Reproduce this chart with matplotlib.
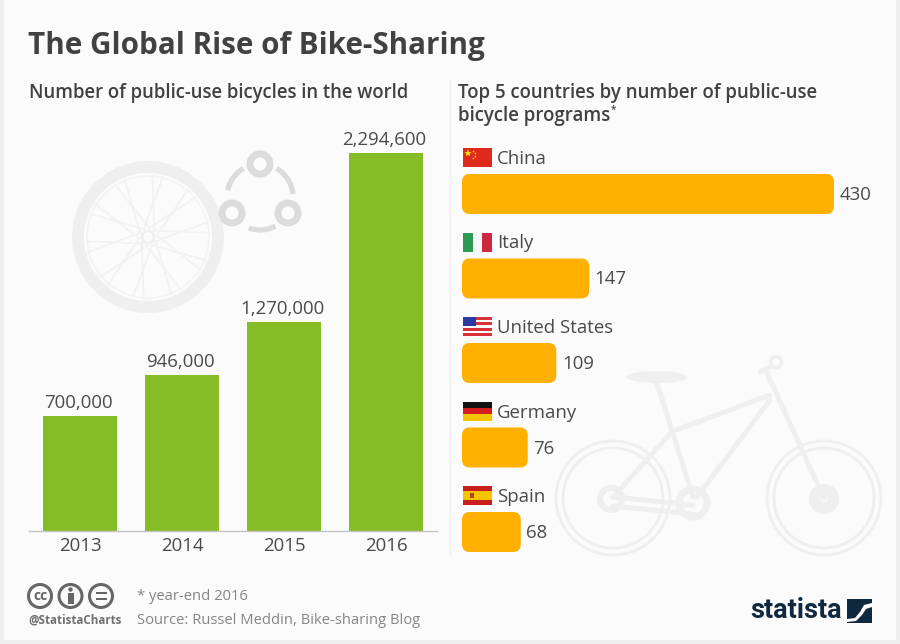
import matplotlib
matplotlib.use('Agg')
import matplotlib.pyplot as plt
from matplotlib.patches import Arc, Circle, Ellipse, FancyBboxPatch, Polygon, Rectangle

years = ['2013', '2014', '2015', '2016']
bicycles = [700000, 946000, 1270000, 2294600]
countries = ['China', 'Italy', 'United States', 'Germany', 'Spain']
programs = [430, 147, 109, 76, 68]

GREEN = '#86bc25'
ORANGE = '#ffb000'
DARK = '#414141'
TEXT = '#4a4a4a'
GREY = '#858585'
WATERMARK = '#efefef'
SHARE = '#dcdcdc'
NAVY = '#10293f'

W, H = 900, 644
plt.rcParams['font.family'] = ['Open Sans', 'DejaVu Sans']


def px_axes(fig, x0, y0, x1, y1, zorder):
	ax = fig.add_axes([x0 / W, 1 - y1 / H, (x1 - x0) / W, (y1 - y0) / H], zorder=zorder)
	ax.patch.set_alpha(0)
	return ax


def line(ax, x1, y1, x2, y2, lw=3.6, color=WATERMARK):
	ax.plot([x1, x2], [y1, y2], color=color, lw=lw, solid_capstyle='round')


def draw_wheel(ax, cx, cy):
	ax.add_patch(Circle((cx, cy), 70, fill=False, ec=WATERMARK, lw=8.5))
	ax.add_patch(Circle((cx, cy), 61, fill=False, ec='#f4f4f4', lw=1.2))
	for i in range(20):
		angle = i * 18 + (4 if i % 2 else -4)
		off = 6 if i % 2 else -6
		a = matplotlib.transforms.Affine2D().rotate_deg(angle).translate(cx, cy)
		p1 = a.transform((6, off))
		p2 = a.transform((62, 0))
		line(ax, p1[0], p1[1], p2[0], p2[1], lw=1.3, color='#f2f2f2')
	ax.add_patch(Circle((cx, cy), 6, fill=False, ec=WATERMARK, lw=2))


def draw_share(ax):
	for cx, cy in [(260, 164), (232, 213), (288, 213)]:
		ax.add_patch(Circle((cx, cy), 10, fill=False, ec=SHARE, lw=5))
	for t1, t2 in [(192, 240), (300, 355), (62, 110)]:
		ax.add_patch(Arc((260, 197), 66, 66, theta1=t1, theta2=t2, ec=SHARE, lw=3.8))


def draw_bike(ax):
	for cx in (613, 824):
		ax.add_patch(Circle((cx, 498), 57, fill=False, ec=WATERMARK, lw=2))
		ax.add_patch(Circle((cx, 498), 50, fill=False, ec=WATERMARK, lw=2))
	ax.add_patch(Ellipse((657, 377), 61, 12, fc=WATERMARK, ec='none'))
	line(ax, 657, 383, 693, 497)
	line(ax, 671, 432, 770, 395)
	line(ax, 770, 400, 697, 497)
	line(ax, 670, 434, 613, 497)
	line(ax, 613, 497, 693, 505)
	line(ax, 613, 506, 693, 514)
	line(ax, 767, 373, 824, 498)
	line(ax, 760, 372, 772, 366)
	ax.add_patch(Circle((776, 362), 5.5, fill=False, ec=WATERMARK, lw=2.6))
	ax.add_patch(Circle((611, 499), 11, fill=False, ec=WATERMARK, lw=4.5))
	ax.add_patch(Circle((693, 503), 14, fill=False, ec=WATERMARK, lw=5))
	ax.add_patch(Circle((824, 499), 15, fc=WATERMARK, ec='none'))
	ax.add_patch(Circle((824, 499), 4, fc='#f6f6f6', ec='none'))


def stripes(ax, x, y, w, h, colors, vertical=False):
	n = len(colors)
	for i, c in enumerate(colors):
		if vertical:
			ax.add_patch(Rectangle((x + i * w / n, y), w / n, h, fc=c, ec='none'))
		else:
			ax.add_patch(Rectangle((x, y + i * h / n), w, h / n, fc=c, ec='none'))


def draw_flag(ax, name, x, y, w=29, h=19):
	if name == 'China':
		stripes(ax, x, y, w, h, ['#dd2a1c'])
		ax.plot([x + 5], [y + 5], marker='*', ms=6, color='#f5d800', mew=0)
		for dx, dy in [(10, 2.5), (12, 5), (12, 8), (10, 10)]:
			ax.plot([x + dx], [y + dy], marker='*', ms=2, color='#f5d800', mew=0)
	elif name == 'Italy':
		stripes(ax, x, y, w, h, ['#2f9a52', '#fafafa', '#cc2b3f'], vertical=True)
	elif name == 'United States':
		stripes(ax, x, y, w, h, ['#d8313a', '#fafafa'] * 3 + ['#d8313a'])
		ax.add_patch(Rectangle((x, y), 13, 9, fc='#2a3aa5', ec='none'))
	elif name == 'Germany':
		stripes(ax, x, y, w, h, ['#111111', '#d51f1f', '#f7c400'])
	elif name == 'Spain':
		stripes(ax, x, y, w, h, ['#c81e1e', '#f5c400', '#f5c400', '#c81e1e'])
		ax.add_patch(Rectangle((x + 7, y + 7), 4, 5, fc='#b5471c', ec='none'))


def draw_cc(ax):
	for cx in (40, 70.5, 101):
		ax.add_patch(Circle((cx, 596), 11.5, fc='none', ec='#666666', lw=2.2))
	ax.text(40, 595.5, 'cc', color='#666666', fontsize=10, fontweight='bold', ha='center', va='center')
	ax.add_patch(Circle((70.5, 589.5), 2.2, fc='#666666', ec='none'))
	ax.add_patch(Rectangle((67.5, 593), 6, 11, fc='#666666', ec='none'))
	ax.add_patch(Rectangle((95.5, 592), 11, 2.2, fc='#666666', ec='none'))
	ax.add_patch(Rectangle((95.5, 597.5), 11, 2.2, fc='#666666', ec='none'))


def draw_logo(ax):
	ax.text(750, 611, 'statista', color=NAVY, fontsize=19.5, fontweight='bold', family='Roboto',
		ha='left', va='center')
	ax.add_patch(Rectangle((847, 599), 25, 24, fc=NAVY, ec='none'))
	ax.add_patch(Polygon([(847, 619), (855, 618), (860, 612), (864, 605), (872, 603), (872, 607), (866, 609),
		(862, 615), (856, 621), (847, 622)], fc='white', ec='none'))


fig = plt.figure(figsize=(W / 100, H / 100), dpi=100, facecolor='#efefef')

# page and decoration in pixel coordinates
bg = px_axes(fig, 0, 0, W, H, 0)
bg.set_xlim(0, W)
bg.set_ylim(H, 0)
bg.axis('off')
bg.add_patch(Rectangle((4, 0), 892, 640, fc='#fbfbfb', ec='none'))
bg.plot([450, 450], [80, 556], color='#f1f1f1', lw=1)
draw_wheel(bg, 148, 237)
draw_share(bg)
draw_bike(bg)
draw_cc(bg)
draw_logo(bg)

bg.text(28, 46, 'The Global Rise of Bike-Sharing', color=DARK, fontsize=21.35, fontweight='bold', va='center')
bg.text(29, 93, 'Number of public-use bicycles in the world', color=DARK, fontsize=13.35, fontweight='semibold', va='center')
bg.text(458, 93, 'Top 5 countries by number of public-use', color=DARK, fontsize=13.4, fontweight='semibold', va='center')
bg.text(458, 116, 'bicycle programs', color=DARK, fontsize=13.4, fontweight='semibold', va='center')
bg.text(611, 110, '*', color=DARK, fontsize=7, fontweight='semibold', va='center')
bg.text(137, 596, '* year-end 2016', color=GREY, fontsize=10.6, va='center')
bg.text(137, 620, 'Source: Russel Meddin, Bike-sharing Blog', color=GREY, fontsize=10.6, va='center')
bg.text(28, 620, '@StatistaCharts', color='#707070', fontsize=8.4, fontweight='bold', va='center')

# left chart
ax1 = px_axes(fig, 29, 153, 437, 531, 2)
bars = ax1.bar(years, bicycles, width=0.725, color=GREEN)
ax1.set_xlim(-0.5, 3.5)
ax1.set_ylim(0, 2294600)
for s in ('top', 'left', 'right'):
	ax1.spines[s].set_visible(False)
ax1.spines['bottom'].set_color('#c4c4c4')
ax1.spines['bottom'].set_linewidth(1)
ax1.set_yticks([])
ax1.tick_params(axis='x', length=0, pad=4, labelsize=13.4, labelcolor=TEXT)
for rect, v in zip(bars, bicycles):
	ax1.annotate(f'{v:,}', (rect.get_x() + rect.get_width() / 2 - 0.02, v), xytext=(0, 3), textcoords='offset points',
		ha='center', va='bottom', fontsize=13.4, color=TEXT, annotation_clip=False)

# right chart, one y unit is the 84.5 px row pitch
ax2 = px_axes(fig, 462, 130, 890, 560, 2)
ax2.set_xlim(0, 428 / 0.865)
ax2.set_ylim((552 + 8 - 194) / 84.5, (130 - 194) / 84.5)
ax2.axis('off')
for i, (name, v) in enumerate(zip(countries, programs)):
	rect = ax2.barh(i, v, height=40 / 84.5, color='none')[0]
	ax2.add_patch(FancyBboxPatch((0, i - 20 / 84.5), rect.get_width(), 40 / 84.5,
		boxstyle='round,pad=0,rounding_size=9', mutation_aspect=0.865 / 84.5, fc=ORANGE, ec='none'))
	ax2.annotate(str(v), (v, i + 1 / 84.5), xytext=(4, 0), textcoords='offset points', ha='left', va='center',
		fontsize=13.4, color=TEXT)
	ax2.annotate(name, (0, i - 35 / 84.5), xytext=(25, 0), textcoords='offset points', ha='left', va='center',
		fontsize=13.4, color=TEXT, annotation_clip=False)
	draw_flag(bg, name, 463, 148 + i * 84.5)

fig.savefig('out.png', dpi=100, facecolor=fig.get_facecolor())
